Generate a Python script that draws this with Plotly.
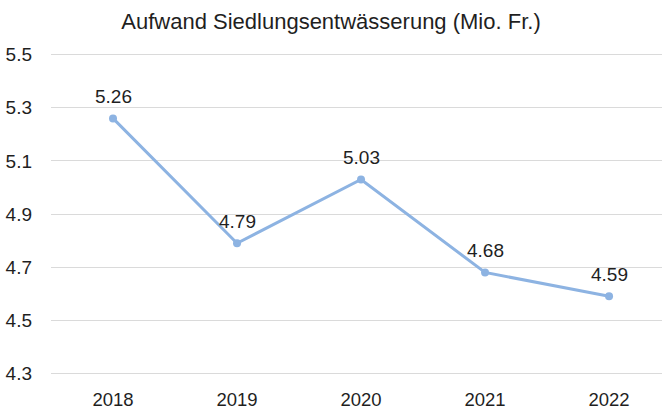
import plotly.graph_objects as go

years = ["2018", "2019", "2020", "2021", "2022"]
aufwand = [5.26, 4.79, 5.03, 4.68, 4.59]
y_ticks = [4.3, 4.5, 4.7, 4.9, 5.1, 5.3, 5.5]

line_color = "#8DB3E2"
text_color = "#1F1F1F"
font_family = "Liberation Sans, Arial, sans-serif"

fig = go.Figure()
fig.add_trace(go.Scatter(
    x=years,
    y=aufwand,
    mode="lines+markers",
    line=dict(color=line_color, width=3),
    marker=dict(color=line_color, size=8),
    hoverinfo="x+y",
    showlegend=False,
))

# value labels above each point (category axis positions by index)
for i, v in enumerate(aufwand):
    fig.add_annotation(
        x=i, y=v, xref="x", yref="y", text=f"{v:.2f}", showarrow=False,
        yshift=22, font=dict(size=19, color=text_color, family=font_family),
    )

fig.update_layout(
    width=662, height=409,
    margin=dict(l=51, r=0, t=52, b=33),
    paper_bgcolor="white",
    plot_bgcolor="white",
    title=dict(
        text="Aufwand Siedlungsentwässerung (Mio. Fr.)",
        x=0.5, xanchor="center", y=1 - 21 / 409, yanchor="middle",
        font=dict(size=22, color=text_color, family=font_family),
    ),
    font=dict(family=font_family, color=text_color),
)

fig.update_xaxes(
    type="category",
    range=[-0.5, 4.427],
    showgrid=False, zeroline=False, showline=False,
    ticks="", ticklabelstandoff=10,
    tickfont=dict(size=18.5, color=text_color),
)
fig.update_yaxes(
    range=[4.29, 5.51],
    tickvals=y_ticks,
    ticktext=[f"{t:.1f}" for t in y_ticks],
    showgrid=True, gridcolor="#DADADA", gridwidth=1,
    zeroline=False, showline=False,
    ticks="", ticklabelstandoff=18,
    tickfont=dict(size=19, color=text_color),
)

fig.write_html("out.html")
